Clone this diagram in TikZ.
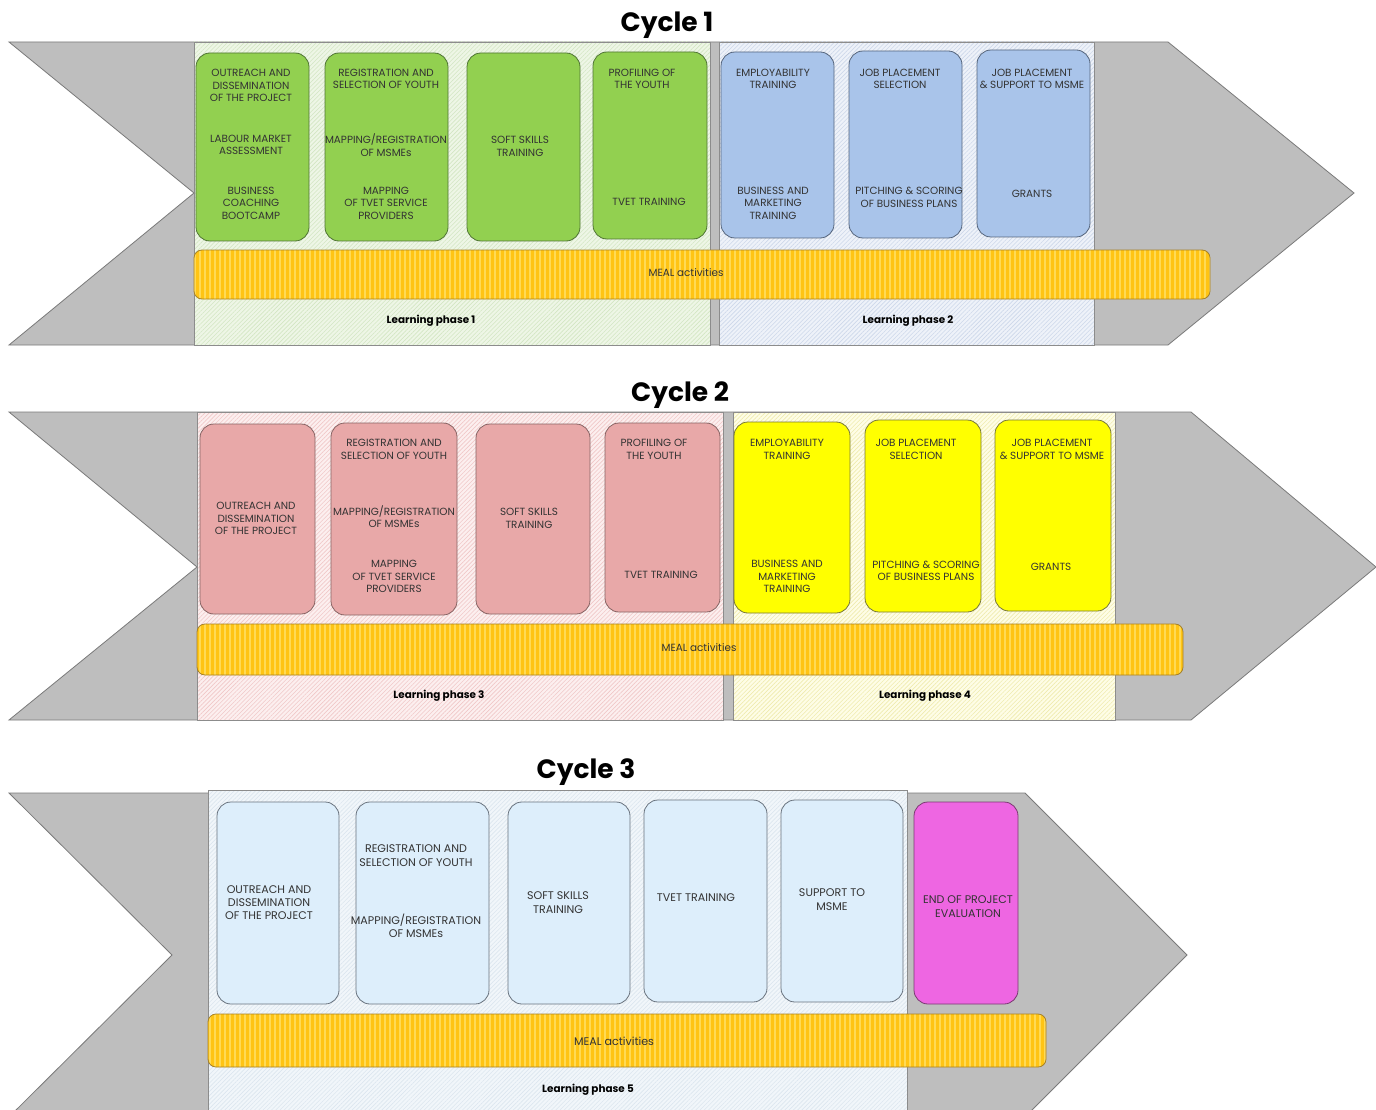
\documentclass[tikz,border=0pt]{standalone}
\usepackage{fontspec}
\setmainfont{Poppins}
\usetikzlibrary{patterns,patterns.meta}
\definecolor{chevc}{HTML}{BEBEBE}
\definecolor{chevl}{HTML}{7A7A7A}
\definecolor{regl}{HTML}{8C8C8C}
\definecolor{txtc}{HTML}{333333}
\definecolor{grbg}{HTML}{EEF6E6}\definecolor{grln}{HTML}{D3E6C3}
\definecolor{blbg}{HTML}{EEF2F9}\definecolor{blln}{HTML}{CDD8EA}
\definecolor{pkbg}{HTML}{FCEFEF}\definecolor{pkln}{HTML}{F0C8C8}
\definecolor{ylbg}{HTML}{FEFDE6}\definecolor{ylln}{HTML}{EFEBAE}
\definecolor{lbbg}{HTML}{F1F6FA}\definecolor{lbln}{HTML}{DCE6EF}
\definecolor{grf}{HTML}{92D050}\definecolor{grd}{HTML}{4F7434}
\definecolor{blf}{HTML}{A9C4EA}\definecolor{bld}{HTML}{56657C}
\definecolor{pkf}{HTML}{E8A8A8}\definecolor{pkd}{HTML}{876464}
\definecolor{ylf}{HTML}{FFFF00}\definecolor{yld}{HTML}{77773A}
\definecolor{lbf}{HTML}{DDEEFB}\definecolor{lbd}{HTML}{69737E}
\definecolor{mgf}{HTML}{EE66E2}\definecolor{mgd}{HTML}{7A3A72}
\definecolor{mealc}{HTML}{FFC414}\definecolor{meall}{HTML}{FFDA55}\definecolor{meald}{HTML}{A5812A}
\begin{document}
\begin{tikzpicture}[x=1pt,y=-1pt,
  chevron/.style={fill=chevc,draw=chevl,line width=0.8pt,line join=miter},
  hatch/.style n args={2}{preaction={fill=#1},pattern={Lines[angle=45,distance=3pt,line width=0.6pt]},pattern color=#2,draw=regl,line width=0.7pt},
  actbox/.style n args={2}{fill=#1,draw=#2,line width=0.8pt,rounded corners=14pt},
  meal/.style={preaction={fill=mealc},pattern={Lines[angle=90,distance=5pt,line width=2.2pt]},pattern color=meall,draw=meald,line width=0.8pt,rounded corners=8pt},
  txt/.style={font=\fontsize{10.4}{12.5}\selectfont,text=txtc,align=center,inner sep=0pt},
  txtb/.style={font=\fontsize{11.1}{13.3}\selectfont,text=txtc,align=center,inner sep=0pt},
  lphase/.style={font=\bfseries\fontsize{10.4}{12}\selectfont,text=black,inner sep=0pt},
  title/.style={font=\bfseries\fontsize{26.5}{30}\selectfont,text=black,inner sep=0pt,anchor=base}]
\useasboundingbox (0,0) rectangle (1376,1110);
\clip (0,0) rectangle (1376,1110);
\fill[white] (0,0) rectangle (1376,1110);

% ---------------- Cycle 1 ----------------
\node[title] (t1) at (667,32) {Cycle 1};
\draw[chevron] (9,42) -- (1168,42) -- (1354,193) -- (1168,345) -- (9,345) -- (194,193) -- cycle;
\draw[hatch={grbg}{grln}] (194,42) rectangle (710,345);
\draw[hatch={blbg}{blln}] (719,42) rectangle (1094,345);
\draw[actbox={grf}{grd}] (196,53) rectangle (309,241);
\draw[actbox={grf}{grd}] (325,53) rectangle (448,241);
\draw[actbox={grf}{grd}] (467,53) rectangle (580,241);
\draw[actbox={grf}{grd}] (593,52) rectangle (707,239);
\draw[actbox={blf}{bld}] (721,52) rectangle (834,238);
\draw[actbox={blf}{bld}] (849,51) rectangle (962,238);
\draw[actbox={blf}{bld}] (977,50) rectangle (1090,237);
\draw[meal] (194,250) rectangle (1210,299);
\node[txt] (c1a1) at (251,85.5) {OUTREACH AND\\DISSEMINATION\\OF THE PROJECT};
\node[txt] (c1a2) at (251,145) {LABOUR MARKET\\ASSESSMENT};
\node[txt] (c1a3) at (251,203) {BUSINESS\\COACHING\\BOOTCAMP};
\node[txt] (c1b1) at (386,79) {REGISTRATION AND\\SELECTION OF YOUTH};
\node[txt] (c1b2) at (386,145) {MAPPING/REGISTRATION\\OF MSMEs};
\node[txt] (c1b3) at (386,203) {MAPPING\\OF TVET SERVICE\\PROVIDERS};
\node[txt] (c1c1) at (520,146.5) {SOFT SKILLS\\TRAINING};
\node[txt] (c1d1) at (642,79) {PROFILING OF\\THE YOUTH};
\node[txt] (c1d2) at (649,202) {TVET TRAINING};
\node[txt] (c1e1) at (773,79) {EMPLOYABILITY\\TRAINING};
\node[txt] (c1e2) at (773,203) {BUSINESS AND\\MARKETING\\TRAINING};
\node[txt] (c1f1) at (900,79) {JOB PLACEMENT\\SELECTION};
\node[txt] (c1f2) at (909,197.5) {PITCHING \& SCORING\\OF BUSINESS PLANS};
\node[txt] (c1g1) at (1032,79) {JOB PLACEMENT\\\& SUPPORT TO MSME};
\node[txt] (c1g2) at (1032,194) {GRANTS};
\node[txt] (c1m) at (686,273) {MEAL activities};
\node[lphase] (lp1) at (431,321) {Learning phase 1};
\node[lphase] (lp2) at (908,321) {Learning phase 2};

% ---------------- Cycle 2 ----------------
\node[title] (t2) at (680,401) {Cycle 2};
\draw[chevron] (9,412) -- (1191,412) -- (1376,567) -- (1191,720) -- (9,720) -- (197,567) -- cycle;
\draw[hatch={pkbg}{pkln}] (197,412) rectangle (723,720);
\draw[hatch={ylbg}{ylln}] (733,412) rectangle (1115,720);
\draw[actbox={pkf}{pkd}] (200,424) rectangle (315,614);
\draw[actbox={pkf}{pkd}] (331,423) rectangle (457,615);
\draw[actbox={pkf}{pkd}] (476,424) rectangle (590,614);
\draw[actbox={pkf}{pkd}] (605,423) rectangle (720,612);
\draw[actbox={ylf}{yld}] (734,422) rectangle (850,613);
\draw[actbox={ylf}{yld}] (865,420) rectangle (981,612);
\draw[actbox={ylf}{yld}] (995,420) rectangle (1111,611);
\draw[meal] (197,624) rectangle (1183,675);
\node[txt] (c2a1) at (256,518.5) {OUTREACH AND\\DISSEMINATION\\OF THE PROJECT};
\node[txt] (c2b1) at (394,449.5) {REGISTRATION AND\\SELECTION OF YOUTH};
\node[txt] (c2b2) at (394,516.5) {MAPPING/REGISTRATION\\OF MSMEs};
\node[txt] (c2b3) at (394,576.5) {MAPPING\\OF TVET SERVICE\\PROVIDERS};
\node[txt] (c2c1) at (529,518.5) {SOFT SKILLS\\TRAINING};
\node[txt] (c2d1) at (654,449.5) {PROFILING OF\\THE YOUTH};
\node[txt] (c2d2) at (661,575) {TVET TRAINING};
\node[txt] (c2e1) at (787,449.5) {EMPLOYABILITY\\TRAINING};
\node[txt] (c2e2) at (787,576.5) {BUSINESS AND\\MARKETING\\TRAINING};
\node[txt] (c2f1) at (916,449.5) {JOB PLACEMENT\\SELECTION};
\node[txt] (c2f2) at (926,571) {PITCHING \& SCORING\\OF BUSINESS PLANS};
\node[txt] (c2g1) at (1052,449.5) {JOB PLACEMENT\\\& SUPPORT TO MSME};
\node[txt] (c2g2) at (1051,567) {GRANTS};
\node[txt] (c2m) at (699,648) {MEAL activities};
\node[lphase] (lp3) at (439,696) {Learning phase 3};
\node[lphase] (lp4) at (925,696) {Learning phase 4};

% ---------------- Cycle 3 ----------------
\node[title] (t3) at (586,778) {Cycle 3};
\draw[chevron] (9,793) -- (1025,793) -- (1187,955) -- (1025,1117) -- (9,1117) -- (172,955) -- cycle;
\draw[hatch={lbbg}{lbln}] (208,790) rectangle (907,1120);
\draw[actbox={lbf}{lbd}] (217,802) rectangle (339,1004);
\draw[actbox={lbf}{lbd}] (356,802) rectangle (489,1004);
\draw[actbox={lbf}{lbd}] (508,802) rectangle (630,1004);
\draw[actbox={lbf}{lbd}] (644,800) rectangle (767,1002);
\draw[actbox={lbf}{lbd}] (781,800) rectangle (903,1002);
\draw[actbox={mgf}{mgd}] (914,802) rectangle (1018,1004);
\draw[meal] (208,1014) rectangle (1046,1067);
\node[txtb] (c3a1) at (269,902.5) {OUTREACH AND\\DISSEMINATION\\OF THE PROJECT};
\node[txtb] (c3b1) at (416,855.5) {REGISTRATION AND\\SELECTION OF YOUTH};
\node[txtb] (c3b2) at (416,925.5) {MAPPING/REGISTRATION\\OF MSMEs};
\node[txtb] (c3c1) at (558,902.5) {SOFT SKILLS\\TRAINING};
\node[txtb] (c3d1) at (696,898) {TVET TRAINING};
\node[txtb] (c3e1) at (832,899.5) {SUPPORT TO\\MSME};
\node[txtb] (c3f1) at (968,906.5) {END OF PROJECT\\EVALUATION};
\node[txtb] (c3m) at (614,1041) {MEAL activities};
\node[lphase] (lp5) at (588,1090) {Learning phase 5};
\end{tikzpicture}
\end{document}
